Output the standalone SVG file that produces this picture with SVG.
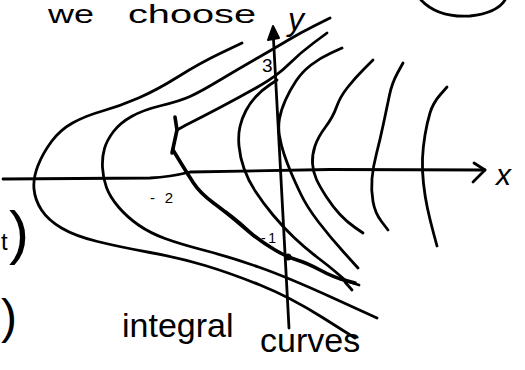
<svg xmlns="http://www.w3.org/2000/svg" width="525" height="370" viewBox="0 0 525 370">
<style>
.c{fill:none;stroke:#000;stroke-width:2.8;stroke-linecap:round;stroke-linejoin:round}
.thick{stroke-width:3.6}
.t{font-family:"Liberation Sans",Arial,sans-serif;fill:#000}
.i{font-style:italic}
</style>
<rect width="525" height="370" fill="#fff"/>
<g id="text-top">
<text class="t" font-size="25" y="23"><tspan x="48" textLength="46" lengthAdjust="spacingAndGlyphs">we</tspan> <tspan x="128" textLength="128" lengthAdjust="spacingAndGlyphs">choose</tspan></text>
<path class="c" d="M421,0 Q438,18 470,16 Q497,13 505,0"/>
</g>
<g id="left-marks">
<text class="t" font-size="24" x="1" y="250">t</text>
<text class="t" font-size="60" x="9" y="253">)</text>
<text class="t" font-size="48" x="1" y="333">)</text>
</g>
<g id="axes">
<path class="c" d="M3,179 L150,178 Q170,177 190,172 L330,169.5 L485,170"/>
<path class="c" d="M474,163 L485,170 L473,182"/>
<path class="c" d="M289,328 L273,30"/>
<path d="M268,40 L273,26 L279,38 Z" fill="#000" stroke="#000" stroke-width="2" stroke-linejoin="round"/>
<circle cx="288" cy="257" r="3.5" fill="#000"/>
<text class="t i" font-size="32" x="288" y="30">y</text>
<text class="t i" font-size="30" x="496" y="185">x</text>
<text class="t" font-size="19" x="262" y="72">3</text>
<text class="t" font-size="15" x="150" y="203" textLength="23" lengthAdjust="spacing">-2</text>
<text class="t" font-size="14" x="261" y="243" textLength="15" lengthAdjust="spacing">-1</text>
</g>
<g id="connectors">
<path id="curve1" class="c" d="M242,43 L221,53 Q200,63 178.5,76.5 Q157,90 138.5,98 Q120,106 102.5,111 Q85,116 72.5,123 Q60,130 51.5,141.5 Q43,153 38,165.5 Q33,178 34,189 Q35,200 41.5,210 Q48,220 61.5,228 Q75,236 97.5,241.5 Q120,247 150,252.5 Q180,258 205,265.5 Q230,273 260,285 Q290,297 322.5,317.5 L355,338"/>
<path id="curve2" class="c" d="M330,18 L315,25.5 Q300,33 287.5,40.5 Q275,48 257.5,58 Q240,68 220,80 Q200,92 190,96.5 Q180,101 161.5,105.5 Q143,110 131.5,116.5 Q120,123 113.5,131.5 Q107,140 104.5,148.5 Q102,157 102.5,167.5 Q103,178 106.5,187.5 Q110,197 118.5,207 Q127,217 138.5,225 Q150,233 165,238.5 Q180,244 205,250.5 Q230,257 258.5,267 Q287,277 332,297.5 L377,318"/>
<path id="curve3" class="c" d="M327,33 L313.5,43 Q300,53 288.5,64.5 Q277,76 258.5,86.5 Q240,97 220,107.5 Q200,118 186,125 L177,130"/>
<path class="c thick" d="M175,117 L177,130 L172,153"/>
<path class="c thick" d="M173,150 L180,161.5 Q187,173 193.5,183 Q200,193 213.5,203 Q227,213 235,220 Q243,227 253,235 Q263,243 275,250 Q287,257 297,260 Q307,263 320,270 Q333,277 344,280 L355,283"/>
<path class="c" stroke-width="5.5" d="M226,212 Q240,222 254,236"/>
<path class="c" stroke-width="2" d="M340,279 L359,285 M345,282 L352,290"/>
<path id="curve4" class="c" d="M277,80 L269.5,85 Q262,90 256,96.5 Q250,103 246,110.5 Q242,118 240,126.5 Q238,135 239,146 Q240,157 244,168.5 Q248,180 255.5,191.5 Q263,203 273,215 Q283,227 294,237.5 Q305,248 317.5,257.5 Q330,267 337.5,273.5 L345,280"/>
<path id="curve5" class="c" d="M342,48 L331,53 Q320,58 311,65 Q302,72 296,81 Q290,90 285.5,100 Q281,110 279.5,118.5 Q278,127 279.5,136 Q281,145 284,154 Q287,163 291,172.5 Q295,182 301,194.5 Q307,207 318.5,222 Q330,237 344,252.5 L358,268"/>
<path id="curve6" class="c" d="M373,60 L364,69 Q355,78 347.5,87.5 Q340,97 336.5,107 Q333,117 325.5,127 Q318,137 315,146 Q312,155 312.5,163.5 Q313,172 316.5,179.5 Q320,187 326.5,197 Q333,207 340,214.5 Q347,222 355,227.5 L363,233"/>
<path id="curve7" class="c" d="M403,63 L397.5,73 Q392,83 389.5,95 Q387,107 383.5,123.5 Q380,140 376.5,153.5 Q373,167 372,178.5 Q371,190 373,201.5 Q375,213 381.5,221.5 L388,230"/>
<path id="curve8" class="c" d="M447,87 L440,95 Q433,103 430,113 Q427,123 425,135 Q423,147 422.5,158.5 Q422,170 423.5,183.5 Q425,197 427.5,208.5 Q430,220 433.5,233 L437,246"/>
</g>
<g id="caption">
<text class="t" font-size="34"><tspan x="122" y="337">integral</tspan> <tspan x="260" y="352">curves</tspan></text>
</g>
</svg>
